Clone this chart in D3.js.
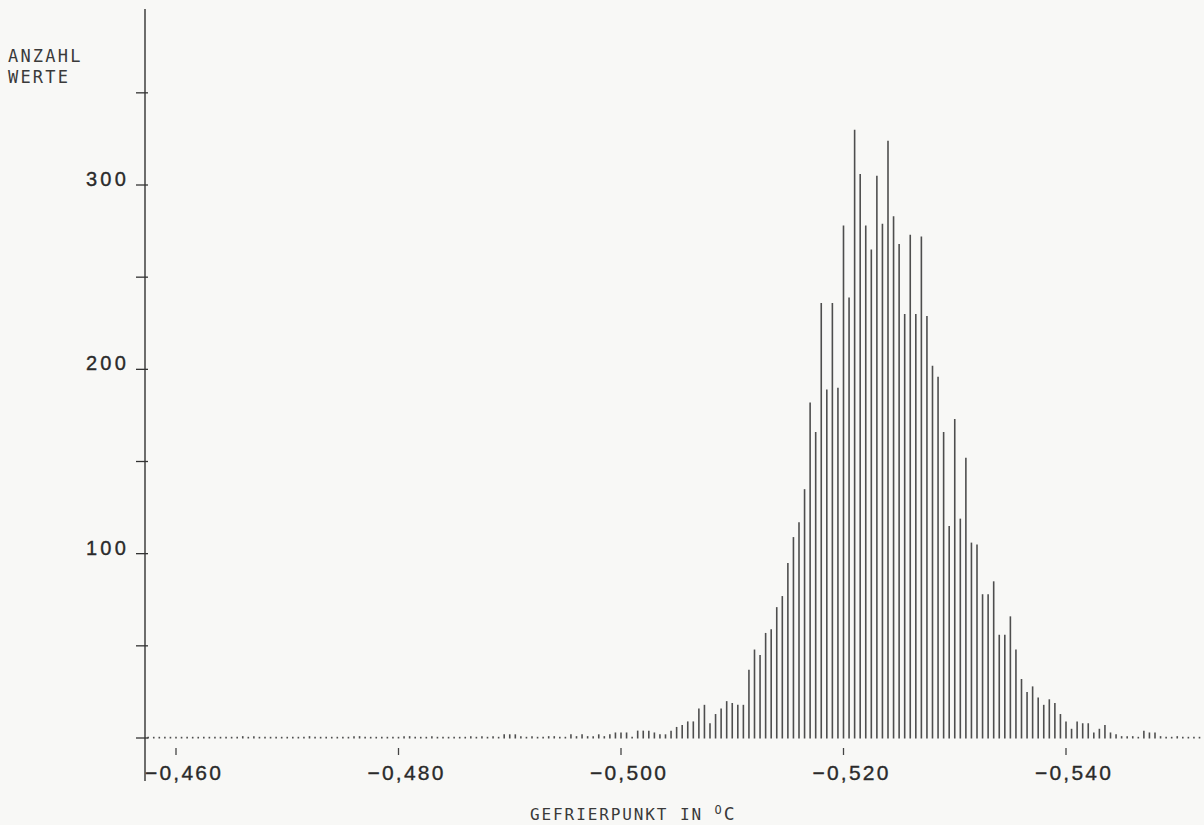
<!DOCTYPE html>
<html>
<head>
<meta charset="utf-8">
<script src="https://cdn.jsdelivr.net/npm/d3@7"></script>
<style>
  html, body { margin: 0; padding: 0; background: #f8f8f6; }
  svg { display: block; }
  .mono { font-family: "DejaVu Sans Mono", monospace; fill: #3a3a3a; }
  .num { font-family: "Liberation Sans", Arial, sans-serif; fill: #2a2a2a; stroke: #2a2a2a; stroke-width: 0.35px; }
</style>
</head>
<body>
<svg id="chart" width="1204" height="825"></svg>
<script>
// freezing point classes (°C), one every 0.0005
var binTemps = [
  -0.4575,-0.458,-0.4585,-0.459,-0.4595,-0.46,-0.4605,-0.461,-0.4615,-0.462,
  -0.4625,-0.463,-0.4635,-0.464,-0.4645,-0.465,-0.4655,-0.466,-0.4665,-0.467,
  -0.4675,-0.468,-0.4685,-0.469,-0.4695,-0.47,-0.4705,-0.471,-0.4715,-0.472,
  -0.4725,-0.473,-0.4735,-0.474,-0.4745,-0.475,-0.4755,-0.476,-0.4765,-0.477,
  -0.4775,-0.478,-0.4785,-0.479,-0.4795,-0.48,-0.4805,-0.481,-0.4815,-0.482,
  -0.4825,-0.483,-0.4835,-0.484,-0.4845,-0.485,-0.4855,-0.486,-0.4865,-0.487,
  -0.4875,-0.488,-0.4885,-0.489,-0.4895,-0.49,-0.4905,-0.491,-0.4915,-0.492,
  -0.4925,-0.493,-0.4935,-0.494,-0.4945,-0.495,-0.4955,-0.496,-0.4965,-0.497,
  -0.4975,-0.498,-0.4985,-0.499,-0.4995,-0.5,-0.5005,-0.501,-0.5015,-0.502,
  -0.5025,-0.503,-0.5035,-0.504,-0.5045,-0.505,-0.5055,-0.506,-0.5065,-0.507,
  -0.5075,-0.508,-0.5085,-0.509,-0.5095,-0.51,-0.5105,-0.511,-0.5115,-0.512,
  -0.5125,-0.513,-0.5135,-0.514,-0.5145,-0.515,-0.5155,-0.516,-0.5165,-0.517,
  -0.5175,-0.518,-0.5185,-0.519,-0.5195,-0.52,-0.5205,-0.521,-0.5215,-0.522,
  -0.5225,-0.523,-0.5235,-0.524,-0.5245,-0.525,-0.5255,-0.526,-0.5265,-0.527,
  -0.5275,-0.528,-0.5285,-0.529,-0.5295,-0.53,-0.5305,-0.531,-0.5315,-0.532,
  -0.5325,-0.533,-0.5335,-0.534,-0.5345,-0.535,-0.5355,-0.536,-0.5365,-0.537,
  -0.5375,-0.538,-0.5385,-0.539,-0.5395,-0.54,-0.5405,-0.541,-0.5415,-0.542,
  -0.5425,-0.543,-0.5435,-0.544,-0.5445,-0.545,-0.5455,-0.546,-0.5465,-0.547,
  -0.5475,-0.548,-0.5485,-0.549,-0.5495,-0.55,-0.5505,-0.551,-0.5515,-0.552
];

// number of values per class
var counts = [
  0,0,0,0,0,0,0,0,0,0,
  0,0,0,0,0,0,0,1,0,1,
  0,0,0,0,0,0,0,0,0,1,
  0,0,0,0,0,0,0,1,1,0,
  0,0,0,0,0,0,1,1,0,0,
  0,1,0,0,0,0,0,0,1,0,
  1,0,1,0,2,2,2,1,0,1,
  0,0,1,1,0,0,2,1,2,1,
  1,2,1,2,3,3,3,0,4,4,
  4,3,2,2,4,6,7,9,9,16,
  18,8,13,16,20,19,18,18,37,48,
  45,57,59,71,77,95,109,117,135,182,
  166,236,189,236,190,278,239,330,306,278,
  265,305,279,324,283,268,230,273,230,272,
  229,202,196,166,115,173,119,152,106,105,
  78,78,85,56,56,66,48,32,25,28,
  22,18,21,19,13,9,5,9,8,8,
  3,5,7,3,2,1,1,1,0,4,
  3,3,1,0,0,1,0,0,0,0
];

var xTicks = [-0.460, -0.480, -0.500, -0.520, -0.540];
var xTickLabels = ["\u22120,460", "\u22120,480", "\u22120,500", "\u22120,520", "\u22120,540"];
var yTicks = [0, 50, 100, 150, 200, 250, 300, 350];
var yTickLabels = [100, 200, 300];

var svg = d3.select("#chart");

var x = d3.scaleLinear().domain([-0.460, -0.540]).range([176, 1066]);
var y = d3.scaleLinear().domain([0, 300]).range([738, 185]);

var axisX = 145;

// bars (zero classes still leave a dot on the baseline)
svg.append("g")
  .selectAll("line")
  .data(binTemps.map(function(t, i) { return { t: t, n: counts[i] }; }))
  .enter().append("line")
    .attr("x1", function(d) { return x(d.t); })
    .attr("x2", function(d) { return x(d.t); })
    .attr("y1", y(0) + 0.5)
    .attr("y2", function(d) { return Math.min(y(d.n), y(0) - 1.2); })
    .attr("stroke", "#4e4e4e")
    .attr("stroke-width", 1.6);

// y axis
svg.append("line")
  .attr("x1", axisX).attr("x2", axisX)
  .attr("y1", 9).attr("y2", 781)
  .attr("stroke", "#333").attr("stroke-width", 1.4);

svg.append("g")
  .selectAll("line")
  .data(yTicks)
  .enter().append("line")
    .attr("x1", axisX - 9).attr("x2", axisX + 3)
    .attr("y1", function(d) { return y(d); })
    .attr("y2", function(d) { return y(d); })
    .attr("stroke", "#333").attr("stroke-width", 1.3);

svg.append("g")
  .selectAll("text")
  .data(yTickLabels)
  .enter().append("text")
    .attr("class", "num")
    .attr("x", 129)
    .attr("y", function(d) { return y(d) + 1; })
    .attr("text-anchor", "end")
    .style("font-size", "20px")
    .style("letter-spacing", "3.2px")
    .text(function(d) { return d; });

// x ticks, below the bars
svg.append("g")
  .selectAll("line")
  .data(xTicks)
  .enter().append("line")
    .attr("x1", function(d) { return x(d); })
    .attr("x2", function(d) { return x(d); })
    .attr("y1", 748).attr("y2", 755)
    .attr("stroke", "#444").attr("stroke-width", 1.3);

svg.append("g")
  .selectAll("text")
  .data(xTicks)
  .enter().append("text")
    .attr("class", "num")
    .attr("x", function(d) { return x(d) - 31; })
    .attr("y", 780)
    .style("font-size", "21px")
    .style("letter-spacing", "2.2px")
    .text(function(d, i) { return xTickLabels[i]; });

// titles
svg.append("text")
  .attr("class", "mono")
  .attr("x", 8).attr("y", 62)
  .style("font-size", "17px")
  .style("letter-spacing", "2.2px")
  .text("ANZAHL");
svg.append("text")
  .attr("class", "mono")
  .attr("x", 8).attr("y", 83)
  .style("font-size", "17px")
  .style("letter-spacing", "2.2px")
  .text("WERTE");

var xt = svg.append("text")
  .attr("class", "mono")
  .attr("x", 530).attr("y", 820)
  .style("font-size", "16px")
  .style("letter-spacing", "1.9px");
xt.append("tspan").text("GEFRIERPUNKT IN ");
xt.append("tspan").attr("dy", -6).style("font-size", "12px").text("O");
xt.append("tspan").attr("dy", 6).style("font-size", "18px").text("C");
</script>
</body>
</html>
